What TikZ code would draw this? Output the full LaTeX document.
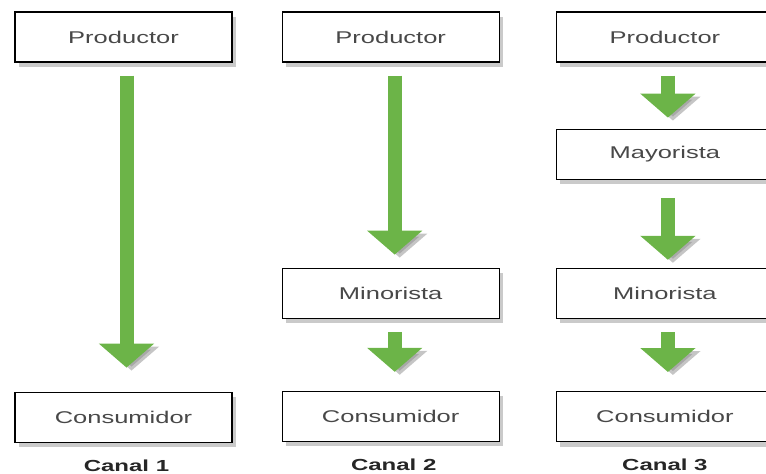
\documentclass[tikz,border=0pt]{standalone}
\usepackage{fontspec}
\setmainfont{Liberation Sans}
\newfontfamily\chanfont[FakeStretch=1.5]{Liberation Sans}
\usetikzlibrary{positioning,arrows.meta,shadows}

\definecolor{flowgreen}{RGB}{108,180,72}
\definecolor{boxtext}{RGB}{72,72,72}

\tikzset{
	chanpicture/.style = {
		x = 1pt,
		y = 1pt,
		node distance = 49pt,
		flow/.style = {
			draw = flowgreen,
			line width = 14pt,
			-{Triangle[length=24pt, width=54pt]},
			shorten <= 13pt,
			shorten >= 13pt,
			preaction = {
				draw = black!45,
				opacity = 0.5,
				transform canvas = {shift = {(5pt,-3pt)}}
			}
		}
	},
	chainnode/.style = {
		draw = black,
		line width = 1.2pt,
		fill = white,
		minimum width = 217pt,
		minimum height = 50pt,
		inner sep = 0pt,
		text = boxtext,
		font = \chanfont\fontsize{17}{20}\selectfont,
		drop shadow = {shadow xshift = 4pt, shadow yshift = -5pt, opacity = 0.35, fill = black!60}
	},
	canal/.style = {
		text = black!85,
		font = \chanfont\bfseries\fontsize{16}{19}\selectfont
	}
}

\begin{document}
\begin{tikzpicture}[chanpicture]
	\useasboundingbox (0,0) rectangle (766,-474);
	\clip (0,0) rectangle (766,-474);

	\node[chainnode] (P1) at (123.5,-37) {Productor};
	\node[chainnode, right = 49pt of P1] (P2) {Productor};
	\node[chainnode, right = 56pt of P2] (P3) {Productor};

	\node[chainnode, below = 329pt of P1] (C1) {Consumidor};

	\node[chainnode, below = 205pt of P2] (Mi2) {Minorista};
	\node[chainnode, below = 72pt of Mi2] (C2) {Consumidor};

	\node[chainnode, below = 66pt of P3] (Ma3) {Mayorista};
	\node[chainnode, below = 88pt of Ma3] (Mi3) {Minorista};
	\node[chainnode, below = 72pt of Mi3] (C3) {Consumidor};

	\node[canal] (K1) at ([xshift = 3pt, yshift = -23pt]C1.south) {Canal 1};
	\node[canal] (K2) at ([xshift = 3pt, yshift = -23pt]C2.south) {Canal 2};
	\node[canal] (K3) at ([xshift = 0pt, yshift = -23pt]C3.south) {Canal 3};

	% flechas
	\draw[flow, shorten >= 24pt] ([xshift = 3pt]P1.south) to ([xshift = 3pt]C1.north);
	\draw[flow] ([xshift = 4pt]P2.south) to ([xshift = 4pt]Mi2.north);
	\draw[flow, shorten >= 19pt] ([xshift = 4pt]Mi2.south) to ([xshift = 4pt]C2.north);
	\draw[flow, shorten >= 11pt] ([xshift = 3pt]P3.south) to ([xshift = 3pt]Ma3.north);
	\draw[flow, shorten <= 18pt, shorten >= 8pt] ([xshift = 3pt]Ma3.south) to ([xshift = 3pt]Mi3.north);
	\draw[flow, shorten >= 19pt] ([xshift = 3pt]Mi3.south) to ([xshift = 3pt]C3.north);
\end{tikzpicture}
\end{document}
